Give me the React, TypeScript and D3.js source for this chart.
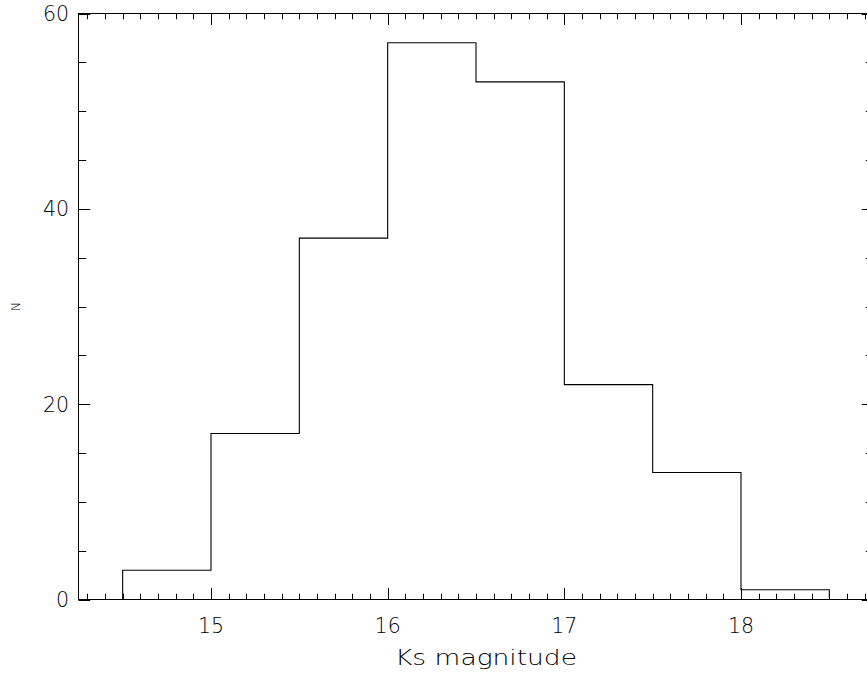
import React from "react";
import * as d3 from "d3";

const binEdges = [14.5, 15.0, 15.5, 16.0, 16.5, 17.0, 17.5, 18.0, 18.5];
const counts = [3, 17, 37, 57, 53, 22, 13, 1];
const xMajorTicks = [15, 16, 17, 18];
const yMajorTicks = [0, 20, 40, 60];
const xDomain = [14.25, 18.75];
const yDomain = [0, 60];
const xLabel = "Ks magnitude";
const yLabel = "N";

const W = 867;
const H = 674;
const L = 78.5;
const R = 873.5;
const T = 13.5;
const B = 599.5;
const FONT = "'DejaVu Sans', 'Liberation Sans', sans-serif";

export default function App() {
  const x = d3.scaleLinear().domain(xDomain).range([L, R]);
  const y = d3.scaleLinear().domain(yDomain).range([B, T]);

  // step path
  const pts: [number, number][] = [];
  pts.push([xDomain[0], 0]);
  pts.push([binEdges[0], 0]);
  counts.forEach((c, i) => {
    pts.push([binEdges[i], c]);
    pts.push([binEdges[i + 1], c]);
  });
  pts.push([binEdges[binEdges.length - 1], 0]);
  pts.push([xDomain[1], 0]);
  const line = d3
    .line<[number, number]>()
    .x((d) => x(d[0]))
    .y((d) => y(d[1]));

  const xMinor = d3.range(Math.ceil(xDomain[0] * 10), Math.floor(xDomain[1] * 10) + 1).map((v) => v / 10);
  const yMinor = d3.range(0, 61, 5);
  const isXMajor = (v: number) => xMajorTicks.some((m) => Math.abs(m - v) < 1e-6);
  const isYMajor = (v: number) => yMajorTicks.includes(v);

  const xMajLen = 11.5;
  const xMinLen = 5.8;
  const yMajLen = 11.7;
  const yMinLen = 7.7;

  return (
    <svg
      width={W}
      height={H}
      style={{ position: "absolute", left: 0, top: 0, background: "#fff" }}
    >
      <rect x={0} y={0} width={W} height={H} fill="#fff" />
      {/* frame */}
      <rect x={L} y={T} width={R - L} height={B - T} fill="none" stroke="#000" strokeWidth={1} />
      {/* x ticks */}
      {xMinor.map((v) => {
        const len = isXMajor(v) ? xMajLen : xMinLen;
        const px = Math.round(x(v)) + 0.5;
        return (
          <g key={"xt" + v}>
            <line x1={px} x2={px} y1={B} y2={B - len} stroke="#000" strokeWidth={1} />
            <line x1={px} x2={px} y1={T} y2={T + len} stroke="#000" strokeWidth={1} />
          </g>
        );
      })}
      {/* y ticks */}
      {yMinor.map((v) => {
        const len = isYMajor(v) ? yMajLen : yMinLen;
        const py = Math.round(y(v)) + 0.5;
        return (
          <g key={"yt" + v}>
            <line x1={L} x2={L + len} y1={py} y2={py} stroke="#000" strokeWidth={1} />
            <line x1={R} x2={R - len} y1={py} y2={py} stroke="#000" strokeWidth={1} />
          </g>
        );
      })}
      {/* histogram */}
      <path d={line(pts) || ""} fill="none" stroke="#000" strokeWidth={1.1} />
      {/* x tick labels */}
      {xMajorTicks.map((v) => (
        <text
          key={"xl" + v}
          x={x(v)}
          y={633}
          textAnchor="middle"
          fontFamily={FONT}
          fontWeight={200}
          fontSize={20.5}
          fill="#000"
        >
          {v}
        </text>
      ))}
      {/* y tick labels */}
      {yMajorTicks.map((v) => (
        <text
          key={"yl" + v}
          x={69}
          y={y(v) + 7.5}
          textAnchor="end"
          fontFamily={FONT}
          fontWeight={200}
          fontSize={20.5}
          fill="#000"
        >
          {v}
        </text>
      ))}
      {/* axis titles */}
      <text
        x={486}
        y={665}
        textAnchor="middle"
        fontFamily={FONT}
        fontWeight={200}
        fontSize={20.5}
        textLength={182}
        lengthAdjust="spacingAndGlyphs"
        fill="#000"
      >
        {xLabel}
      </text>
      <text
        transform={`translate(19.5,${(T + B) / 2}) rotate(-90)`}
        textAnchor="middle"
        fontFamily={FONT}
        fontWeight={200}
        fontSize={12}
        fill="#000"
      >
        {yLabel}
      </text>
    </svg>
  );
}
